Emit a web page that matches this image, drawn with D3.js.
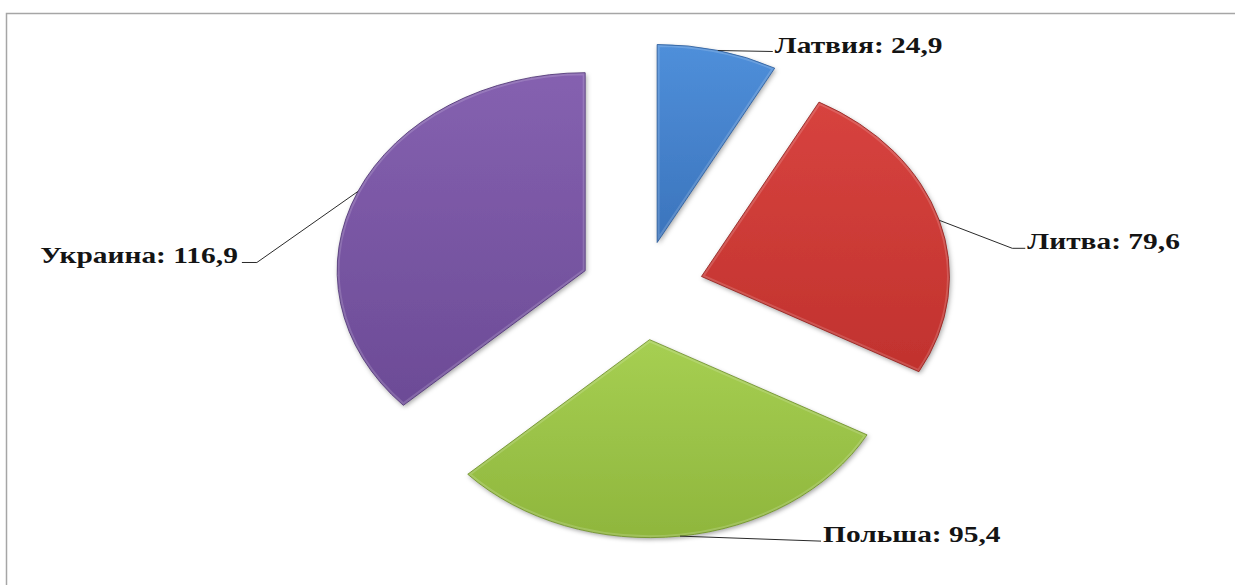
<!DOCTYPE html>
<html>
<head>
<meta charset="utf-8">
<script src="https://cdn.jsdelivr.net/npm/d3@7"></script>
<style>
  body { margin: 0; background: #fff; }
</style>
</head>
<body>
<script>
const countries = ["Латвия", "Литва", "Польша", "Украина"];
const values = [24.9, 79.6, 95.4, 116.9];
const valueLabels = ["24,9", "79,6", "95,4", "116,9"];
const topColors = ["#4f8fda", "#d7433f", "#a6cf52", "#8561b0"];
const bottomColors = ["#3b74bc", "#c1322e", "#8fb63d", "#6c4b96"];
const edgeColors = ["#2d5d9a", "#8f2421", "#6f8f2c", "#4f3574"];

// label layout: bend point and text anchor relative to the slice edge
const labelBends = [[55, 1], [73, 28], [141, 5], [-101, 71]];
const labelEnds = [[55, 1], [86, 28], [141, 5], [-116, 71]];
const labelAnchors = ["start", "start", "start", "end"];

const W = 1235, H = 585;
const R = 198;           // pie radius (vertical)
const sx = 248 / 198;    // horizontal stretch of the picture
const cx = 642, cy = 290.5;
const explode = 0.25 * R;

const svg = d3.select("body")
    .append("svg")
    .attr("width", W)
    .attr("height", H);

const defs = svg.append("defs");

// soft shadow
const shadow = defs.append("filter")
    .attr("id", "shadow")
    .attr("x", "-20%").attr("y", "-20%")
    .attr("width", "140%").attr("height", "140%");
shadow.append("feDropShadow")
    .attr("dx", 1).attr("dy", 2)
    .attr("stdDeviation", 2)
    .attr("flood-color", "#000")
    .attr("flood-opacity", 0.35);

// outer frame (only top and left edges are visible)
svg.append("rect")
    .attr("x", 6.5)
    .attr("y", 13.5)
    .attr("width", 1400)
    .attr("height", 800)
    .attr("fill", "none")
    .attr("stroke", "#a6a6a6")
    .attr("stroke-width", 1.5);

const pie = d3.pie().sort(null).value(d => d);
const arcs = pie(values);
const arc = d3.arc().innerRadius(0).outerRadius(R);

values.forEach(function (v, i) {
    const g = defs.append("linearGradient")
        .attr("id", "grad" + i)
        .attr("x1", 0).attr("y1", 0)
        .attr("x2", 0).attr("y2", 1);
    g.append("stop").attr("offset", "0%").attr("stop-color", topColors[i]);
    g.append("stop").attr("offset", "100%").attr("stop-color", bottomColors[i]);
});

const pieG = svg.append("g")
    .attr("transform", "translate(" + cx + "," + cy + ") scale(" + sx + ",1)");

function mid(d) {
    return (d.startAngle + d.endAngle) / 2;
}

// draw each slice
const slice = pieG.selectAll("g.slice")
    .data(arcs)
    .join("g")
    .attr("class", "slice")
    .attr("transform", function (d) {
        const a = mid(d);
        return "translate(" + explode * Math.sin(a) + "," + (-explode * Math.cos(a)) + ")";
    });

slice.each(function (d, i) {
    defs.append("clipPath")
        .attr("id", "clip" + i)
        .append("path")
        .attr("d", arc(d));
});

slice.append("path")
    .attr("d", arc)
    .attr("fill", (d, i) => "url(#grad" + i + ")")
    .attr("filter", "url(#shadow)");

// bevel highlight along the rim
slice.append("path")
    .attr("d", arc)
    .attr("fill", "none")
    .attr("clip-path", (d, i) => "url(#clip" + i + ")")
    .attr("stroke", "#fff")
    .attr("stroke-opacity", 0.16)
    .attr("stroke-width", 5)
    .attr("vector-effect", "non-scaling-stroke");

slice.append("path")
    .attr("d", arc)
    .attr("fill", "none")
    .attr("stroke", (d, i) => edgeColors[i])
    .attr("stroke-width", 1)
    .attr("stroke-opacity", 0.85)
    .attr("vector-effect", "non-scaling-stroke");

// leader lines and labels
arcs.forEach(function (d, i) {
    const a = mid(d);
    const px = cx + sx * (explode + R) * Math.sin(a);
    const py = cy - (explode + R) * Math.cos(a);
    const b = [px + labelBends[i][0], py + labelBends[i][1]];
    const e = [px + labelEnds[i][0], py + labelEnds[i][1]];

    svg.append("path")
        .attr("d", d3.line()([[px, py], b, e]))
        .attr("fill", "none")
        .attr("stroke", "#2a2a2a")
        .attr("stroke-width", 1);

    const tx = labelAnchors[i] === "start" ? e[0] + 2 : e[0] - 4;
    const ty = e[1] + 1;
    svg.append("text")
        .attr("transform", "translate(" + tx + "," + ty + ") scale(1.28,1)")
        .attr("text-anchor", labelAnchors[i])
        .style("font-family", "'Liberation Serif', 'Times New Roman', serif")
        .style("font-weight", "bold")
        .style("font-size", "23px")
        .style("fill", "#141414")
        .text(countries[i] + ": " + valueLabels[i]);
});
</script>
</body>
</html>
